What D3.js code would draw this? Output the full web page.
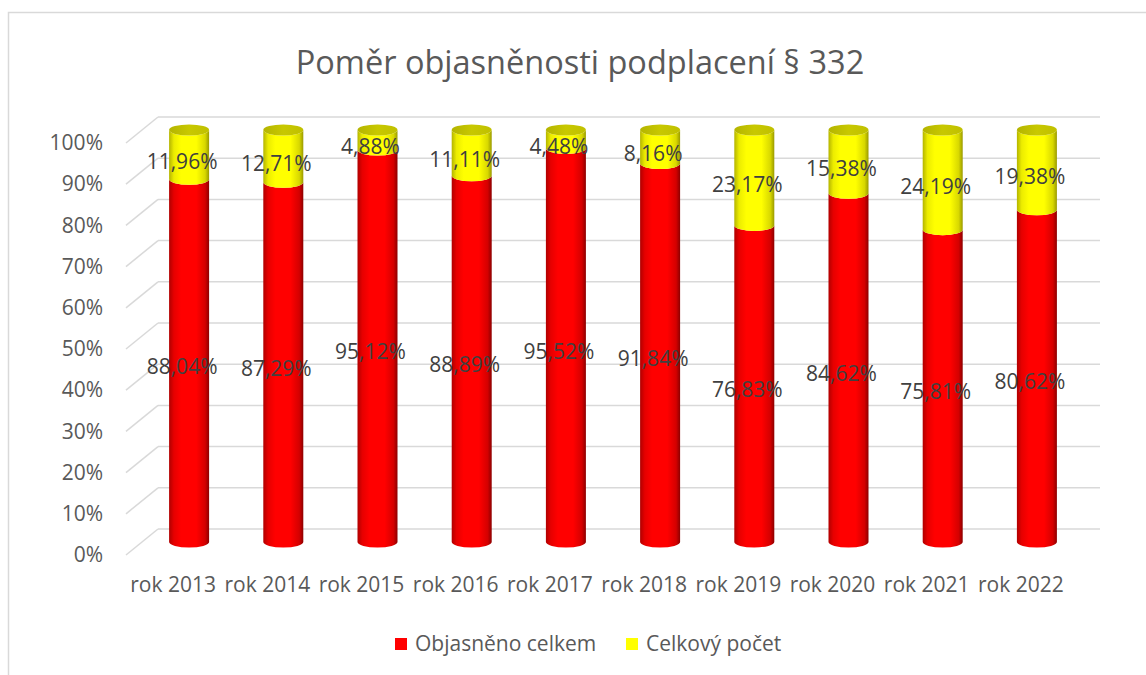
<!DOCTYPE html>
<html lang="cs">
<head>
<meta charset="utf-8">
<title>Poměr objasněnosti podplacení § 332</title>
<script src="https://cdn.jsdelivr.net/npm/d3@7"></script>
<style>
  body { margin: 0; background: #fff; }
  svg text { font-family: "Open Sans", "Noto Sans", sans-serif; fill: #595959; }
</style>
</head>
<body>
<svg id="chart"></svg>
<script>

// data
var years = ["rok 2013", "rok 2014", "rok 2015", "rok 2016", "rok 2017",
             "rok 2018", "rok 2019", "rok 2020", "rok 2021", "rok 2022"];
var explained = [88.04, 87.29, 95.12, 88.89, 95.52, 91.84, 76.83, 84.62, 75.81, 80.62];
var remaining = [11.96, 12.71, 4.88, 11.11, 4.48, 8.16, 23.17, 15.38, 24.19, 19.38];
var yTicks = [0, 10, 20, 30, 40, 50, 60, 70, 80, 90, 100];
var seriesNames = ["Objasněno celkem", "Celkový počet"];

var width = 1146, height = 675;
var depthX = -32, depthY = 26;   // front of the 3D box relative to the back wall
var rx = 20, ry = 5.5;

var svg = d3.select("#chart").attr("width", width).attr("height", height);

// chart frame
svg.append("rect")
    .attr("x", 8.5).attr("y", 12.5)
    .attr("width", 1160).attr("height", 700)
    .attr("fill", "#fff").attr("stroke", "#d9d9d9").attr("stroke-width", 1.5);

// back wall scales
var x = d3.scaleBand().domain(years).range([158, 1100]);
var y = d3.scaleLinear().domain([0, 100]).range([529, 117]);

// front scales (for the axis labels)
var xFront = x.copy().range([158 + depthX, 1100 + depthX]);
var yFront = y.copy().range([529 + depthY, 117 + depthY]);

var fmt = function(v) { return d3.format(".2f")(v).replace(".", ",") + "%"; };

// gradients
var defs = svg.append("defs");
function gradient(id, stops) {
  var g = defs.append("linearGradient").attr("id", id)
      .attr("x1", 0).attr("x2", 1).attr("y1", 0).attr("y2", 0);
  stops.forEach(function(s) { g.append("stop").attr("offset", s[0]).attr("stop-color", s[1]); });
}
gradient("redSide", [[0, "#b00000"], [0.12, "#e60000"], [0.3, "#ff0000"], [0.68, "#ff0000"], [0.9, "#d40000"], [1, "#8c0000"]]);
gradient("yelSide", [[0, "#b4b400"], [0.12, "#ecec00"], [0.3, "#ffff00"], [0.68, "#ffff00"], [0.9, "#d8d800"], [1, "#9a9a00"]]);
gradient("yelTop", [[0, "#b4b400"], [0.5, "#c8c800"], [1, "#c0c000"]]);

// gridlines (back wall + left side diagonal)
var grid = svg.append("g").attr("stroke", "#d9d9d9").attr("stroke-width", 1.5);
grid.selectAll(".back").data(yTicks).enter().append("line")
    .attr("x1", 158).attr("x2", 1100)
    .attr("y1", function(d) { return y(d); }).attr("y2", function(d) { return y(d); });
grid.selectAll(".side").data(yTicks).enter().append("line")
    .attr("x1", 158 + depthX).attr("y1", function(d) { return y(d) + depthY; })
    .attr("x2", 158).attr("y2", function(d) { return y(d); });

// y axis
var yAxis = svg.append("g").attr("transform", "translate(103,0)")
    .call(d3.axisLeft(yFront).tickValues(yTicks).tickSize(0).tickPadding(0)
          .tickFormat(function(d) { return d + "%"; }));
yAxis.select(".domain").remove();
yAxis.selectAll("text").style("font-size", "21px").attr("fill", "#595959");

// x axis
var xAxis = svg.append("g").attr("transform", "translate(0,577)")
    .call(d3.axisBottom(xFront).tickSize(0).tickPadding(0));
xAxis.select(".domain").remove();
xAxis.selectAll("text").style("font-size", "21px").attr("fill", "#595959");

// cylinder side between two values
function side(cx, v0, v1) {
  var yb = y(v0) + depthY / 2, yt = y(v1) + depthY / 2;
  return "M" + (cx - rx) + "," + yt +
         "L" + (cx - rx) + "," + yb +
         "A" + rx + "," + ry + " 0 0 0 " + (cx + rx) + "," + yb +
         "L" + (cx + rx) + "," + yt +
         "A" + rx + "," + ry + " 0 0 1 " + (cx - rx) + "," + yt + "Z";
}
function cx(i) { return x(years[i]) + x.bandwidth() / 2 + depthX / 2; }

var bars = svg.append("g");
years.forEach(function(yr, i) {
  var c = cx(i);
  bars.append("path").attr("d", side(c, 0, explained[i])).attr("fill", "url(#redSide)");
  bars.append("path").attr("d", side(c, explained[i], explained[i] + remaining[i])).attr("fill", "url(#yelSide)");
  bars.append("ellipse")
      .attr("cx", c).attr("cy", y(explained[i] + remaining[i]) + depthY / 2)
      .attr("rx", rx).attr("ry", ry).attr("fill", "url(#yelTop)");
});

// data labels
var labels = svg.append("g").style("font-size", "21px").attr("text-anchor", "middle");
years.forEach(function(yr, i) {
  var c = cx(i) - 7;
  labels.append("text").attr("x", c).style("fill", "#404040")
      .attr("y", y(explained[i] / 2) + depthY / 2 + 6).attr("dy", "0.35em")
      .text(fmt(explained[i]));
  labels.append("text").attr("x", c).style("fill", "#404040")
      .attr("y", y(explained[i] + remaining[i] / 2) + depthY / 2 + 7).attr("dy", "0.35em")
      .text(fmt(remaining[i]));
});

// title
svg.append("text")
    .attr("x", 580).attr("y", 74)
    .attr("text-anchor", "middle")
    .style("font-size", "32.5px")
    .text("Poměr objasněnosti podplacení § 332");

// legend
var legendColors = ["#ff0000", "#ffff00"];
var legendX = [395, 626];
var legend = svg.append("g");
seriesNames.forEach(function(name, i) {
  legend.append("rect").attr("x", legendX[i]).attr("y", 638)
      .attr("width", 12).attr("height", 12).attr("fill", legendColors[i]);
  legend.append("text").attr("x", legendX[i] + 20).attr("y", 651)
      .style("font-size", "21px").text(name);
});

</script>
</body>
</html>
